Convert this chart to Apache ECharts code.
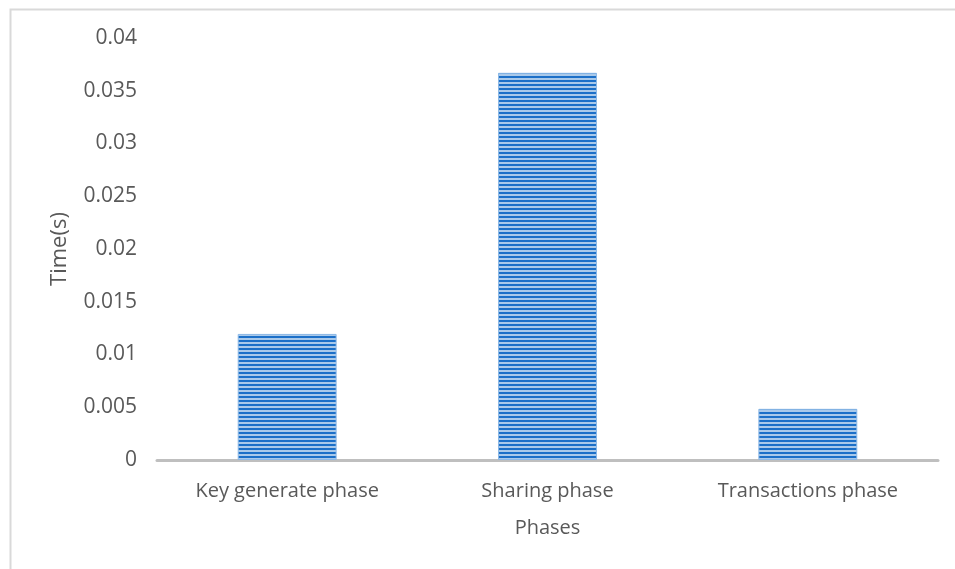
<!DOCTYPE html>
<html>
<head>
<meta charset="utf-8">
<title>Phases</title>
<script src="https://cdn.jsdelivr.net/npm/echarts@6/dist/echarts.min.js"></script>
<style>
html, body { margin: 0; padding: 0; background: #fff; }
#chart { width: 955px; height: 569px; }
</style>
</head>
<body>
<div id="chart"></div>
<script>
var categories = ['Key generate phase', 'Sharing phase', 'Transactions phase'];
var times = [0.01195, 0.0367, 0.00485];
var yTicks = [0, 0.005, 0.01, 0.015, 0.02, 0.025, 0.03, 0.035, 0.04];

// striped fill for the bars
var stripe = document.createElement('canvas');
stripe.width = 8;
stripe.height = 4;
var ctx = stripe.getContext('2d');
ctx.fillStyle = '#a9c9ea';
ctx.fillRect(0, 0, 8, 4);
ctx.fillStyle = '#1b6fc8';
ctx.fillRect(0, 0, 8, 2);

var textColor = '#595959';
var font = 'Open Sans';

var option = {
    animation: false,
    textStyle: { fontFamily: font },
    graphic: [{
        type: 'rect',
        shape: { x: 10.5, y: 9.5, width: 960, height: 580 },
        style: { fill: 'none', stroke: '#d9d9d9', lineWidth: 2 }
    }],
    grid: { left: 157, right: 17, top: 38, bottom: 109, containLabel: false },
    xAxis: {
        type: 'category',
        data: categories,
        name: 'Phases',
        nameLocation: 'middle',
        nameGap: 58,
        nameTextStyle: { color: textColor, fontSize: 20, fontFamily: font },
        axisLine: { lineStyle: { color: '#bfbfbf', width: 3 } },
        axisTick: { show: false },
        axisLabel: { color: textColor, fontSize: 20, margin: 21, fontFamily: font }
    },
    yAxis: {
        type: 'value',
        min: yTicks[0],
        max: yTicks[yTicks.length - 1],
        interval: yTicks[1] - yTicks[0],
        name: 'Time(s)',
        nameLocation: 'middle',
        nameGap: 86,
        nameTextStyle: { color: textColor, fontSize: 22, fontFamily: font },
        axisLine: { show: false },
        axisTick: { show: false },
        splitLine: { show: false },
        axisLabel: {
            color: textColor, fontSize: 21, margin: 20, fontFamily: font,
            formatter: function (v) { return String(+v.toFixed(3)); }
        }
    },
    series: [{
        type: 'bar',
        data: times,
        barWidth: '38%',
        itemStyle: {
            color: { image: stripe, repeat: 'repeat' },
            borderColor: '#8cb8e6',
            borderWidth: 1
        }
    }]
};

var myChart = echarts.init(document.getElementById('chart'));
myChart.setOption(option);
</script>
</body>
</html>
